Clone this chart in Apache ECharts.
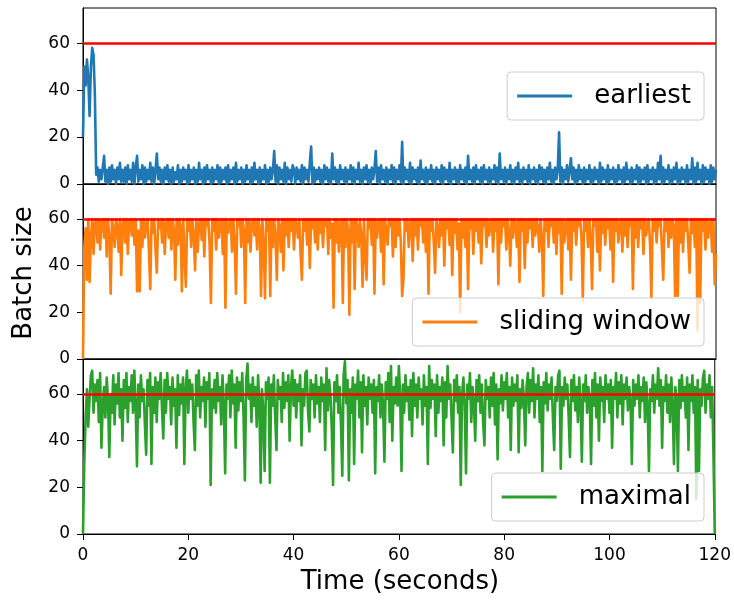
<!DOCTYPE html>
<html>
<head>
<meta charset="utf-8">
<script src="https://cdn.jsdelivr.net/npm/echarts@6/dist/echarts.min.js"></script>
<style>
  html, body { margin: 0; padding: 0; background: #fff; }
  #main { width: 734px; height: 600px; }
</style>
</head>
<body>
<div id="main"></div>
<script>
// sample interval of the recorded batch sizes (seconds)
var step = 0.25;
var limit = 60;
var seriesNames = ['earliest', 'sliding window', 'maximal'];
var colors = ['#1f77b4', '#ff7f0e', '#2ca02c'];
var yTicks = [0, 20, 40, 60];

var earliest = [
  20,50,42,53,45,29,50,58,55,38,4,7,1,6,2,7,12,1,6,0,
  7,1,8,2,6,0,7,2,9,1,6,1,7,0,8,2,6,1,9,0,
  7,12,1,6,2,8,0,7,1,6,2,9,1,7,0,6,13,2,7,1,
  6,0,7,2,8,1,6,0,7,1,5,2,8,0,6,1,7,2,6,0,
  8,1,6,2,7,0,6,1,9,2,6,0,7,1,8,2,6,0,7,1,
  6,2,8,0,7,1,6,2,7,0,8,1,6,2,7,0,9,1,6,2,
  7,0,6,1,8,2,6,0,7,1,9,2,6,0,7,1,6,2,8,0,
  6,1,7,2,6,14,1,8,0,7,2,6,1,9,0,7,2,6,1,8,
  6,0,7,2,6,1,8,0,7,2,6,1,9,16,0,7,1,6,2,7,
  1,6,0,8,2,7,1,6,0,13,2,7,1,6,0,8,2,6,1,7,
  0,6,2,8,1,7,0,6,2,9,1,6,0,7,2,8,1,6,0,7,
  2,6,14,1,7,0,8,2,6,1,7,0,6,2,8,1,7,0,6,2,
  8,1,18,0,7,2,6,1,9,0,7,2,6,1,7,0,10,2,6,1,
  7,0,6,2,8,1,6,0,7,2,6,1,8,0,7,2,6,1,9,0,
  6,2,7,1,6,0,8,2,6,1,7,0,12,2,6,1,7,0,8,2,
  6,1,7,0,8,2,6,1,7,0,6,2,8,1,7,0,13,2,6,1,
  7,0,6,2,8,1,6,0,7,2,9,1,6,0,7,2,6,1,8,0,
  6,2,7,1,6,0,8,2,7,1,6,0,7,2,9,1,6,0,7,2,
  6,22,1,7,0,6,2,8,1,6,11,2,7,0,6,1,8,2,6,0,
  7,1,6,2,8,0,6,1,7,2,6,0,9,1,7,2,6,0,8,1,
  6,2,7,0,6,1,8,2,6,0,7,1,9,2,6,0,7,1,6,2,
  8,0,7,1,6,2,7,0,8,1,6,2,7,0,6,1,9,2,12,0,
  7,1,6,2,8,0,6,1,7,2,9,0,6,1,7,2,6,0,8,1,
  6,2,11,0,7,1,9,2,6,0,8,1,7,2,6,0,8,1,7,2,
  6
];

var slidingWindow = [
  0,48,56,34,60,33,52,60,45,58,60,50,60,47,59,60,52,60,44,60,
  52,28,60,55,48,60,57,46,60,36,58,60,50,60,45,59,60,53,60,49,
  60,29,55,29,60,48,60,52,58,60,46,30,60,54,60,47,37,60,56,60,
  50,60,45,58,60,52,60,47,60,55,34,60,49,60,57,29,60,44,31,60,
  55,60,48,60,53,38,60,46,58,60,51,60,44,60,57,60,49,24,60,55,
  60,47,60,52,58,60,45,60,22,60,54,58,60,46,60,50,28,60,57,60,
  48,60,55,24,60,50,60,46,58,60,53,60,47,60,56,27,60,49,26,60,
  55,60,27,60,48,60,52,34,60,57,46,60,38,60,53,60,48,60,55,60,
  47,60,58,52,60,45,34,60,55,60,49,60,39,60,56,60,50,60,47,60,
  54,60,48,60,57,60,45,60,52,58,22,60,50,60,46,58,60,24,60,48,
  60,55,19,60,50,60,30,60,57,48,60,53,31,60,45,34,60,56,60,49,
  60,28,60,52,58,60,46,60,32,60,55,49,60,57,60,44,60,48,60,53,
  60,50,27,34,60,55,60,48,58,60,42,60,53,60,47,60,57,60,50,60,
  46,60,28,60,55,60,50,37,60,57,48,60,53,60,40,60,56,60,49,60,
  36,60,54,60,47,58,20,60,52,60,48,60,30,60,56,60,45,60,55,60,
  50,60,41,60,57,60,48,60,53,58,60,46,60,55,60,32,60,50,60,57,
  60,47,60,55,40,60,52,60,58,48,60,33,60,55,60,39,60,50,60,56,
  60,48,60,53,60,57,46,60,52,27,60,55,60,48,60,57,60,50,60,45,
  60,54,60,28,60,50,58,60,47,60,34,60,55,60,49,60,57,60,52,25,
  60,55,60,48,60,52,30,60,57,60,46,60,38,60,54,60,49,60,56,60,
  47,60,33,60,55,60,50,58,60,46,60,53,60,48,60,57,60,30,60,52,
  60,48,60,56,60,45,60,53,58,60,49,26,60,55,60,50,60,57,60,47,
  34,60,55,60,48,60,52,60,57,27,60,27,60,50,60,46,60,55,60,49,
  37,60,54,60,48,60,12,60,24,60,55,60,47,60,52,58,60,46,60,32,
  45
];

var maximal = [
  0,31,50,62,46,58,68,70,52,64,57,66,48,69,37,55,63,50,67,58,
  33,60,52,68,47,64,56,69,50,62,40,66,54,69,48,63,57,68,52,70,
  55,29,64,50,68,57,62,47,34,66,55,69,30,63,52,67,48,65,58,69,
  54,41,66,52,69,58,63,47,67,55,62,37,68,51,64,56,67,30,62,70,
  52,66,58,64,48,36,68,55,70,50,63,57,67,46,65,58,69,21,62,54,
  66,52,69,57,63,47,68,55,26,64,58,68,50,70,56,64,37,67,53,65,
  57,69,50,23,66,73,58,64,48,67,55,63,46,68,57,22,62,52,27,65,
  58,67,22,64,55,68,50,36,66,58,63,48,69,54,65,57,68,40,63,70,
  55,66,50,64,57,68,38,62,55,69,70,52,44,66,58,64,50,68,56,63,
  48,67,57,64,36,71,53,66,60,45,21,65,57,68,52,63,47,25,68,74,
  56,66,23,62,52,67,30,64,58,70,50,65,35,68,55,63,47,67,58,64,
  52,66,26,63,57,68,50,64,55,31,65,58,69,48,72,40,63,56,67,55,
  72,58,27,64,52,68,57,63,49,66,42,69,55,64,50,67,58,62,47,68,
  55,63,30,72,54,66,58,64,42,68,52,63,57,67,38,65,50,72,58,64,
  50,35,66,57,68,52,63,21,60,67,55,26,64,58,69,48,63,56,40,66,
  57,68,52,64,48,38,66,58,63,50,67,55,69,47,64,32,62,56,68,53,
  65,58,69,50,63,36,67,55,64,57,68,35,62,54,66,58,38,63,69,52,
  66,57,71,50,64,58,68,48,63,27,65,56,69,53,64,58,67,50,36,63,
  57,68,70,28,63,55,67,58,64,50,33,66,57,68,53,63,48,67,56,31,
  64,57,68,52,63,58,30,66,55,69,50,64,40,67,57,63,48,68,58,64,
  52,66,37,63,58,69,50,65,56,68,47,64,58,67,53,63,57,30,66,55,
  64,58,68,50,63,57,67,48,65,55,27,62,57,68,52,64,58,71,55,66,
  37,63,57,68,52,64,48,67,55,30,63,58,27,66,54,68,57,63,50,67,
  36,64,57,68,52,63,15,66,27,62,55,67,70,52,64,58,68,50,63,34,
  0
];

var font = 'DejaVu Sans';
var allData = [earliest, slidingWindow, maximal];
var gridTops = [8, 184, 359];
var gridHeights = [176, 175, 175];
var legendTops = [72, 298, 473];

function toPairs(arr) {
    var out = [];
    for (var i = 0; i < arr.length; i++) {
        out.push([i * step, arr[i]]);
    }
    return out;
}

var grids = [], xAxes = [], yAxes = [], series = [], legends = [];
for (var k = 0; k < 3; k++) {
    var bottom = (k == 2);
    grids.push({
        left: 83, right: 18, top: gridTops[k], height: gridHeights[k],
        show: true, borderColor: '#000', borderWidth: 1,
        backgroundColor: 'transparent'
    });
    xAxes.push({
        type: 'value', gridIndex: k, min: 0, max: 120, interval: 20,
        axisLine: { show: true, onZero: false, lineStyle: { color: '#000', width: 1 } },
        axisTick: { show: bottom, length: 6, lineStyle: { color: '#000' } },
        axisLabel: { show: bottom, fontSize: 17, color: '#000', fontFamily: font, margin: 13 },
        splitLine: { show: false }
    });
    yAxes.push({
        type: 'value', gridIndex: k, min: 0, max: 75, interval: 20,
        axisLine: { show: true, lineStyle: { color: '#000', width: 1 } },
        axisTick: { show: true, length: 6, customValues: yTicks, lineStyle: { color: '#000' } },
        axisLabel: { fontSize: 17, color: '#000', fontFamily: font, margin: 13, customValues: yTicks },
        splitLine: { show: false }
    });
    series.push({
        name: seriesNames[k],
        type: 'line',
        xAxisIndex: k,
        yAxisIndex: k,
        data: toPairs(allData[k]),
        symbol: 'none',
        showSymbol: false,
        color: colors[k],
        lineStyle: { width: 2.6, color: colors[k], join: 'round' },
        markLine: {
            silent: true,
            symbol: ['none', 'none'],
            label: { show: false },
            lineStyle: { color: '#ff0000', width: 2.5, type: 'solid' },
            data: [{ yAxis: limit }]
        }
    });
    legends.push({
        data: [seriesNames[k]],
        right: 30,
        top: legendTops[k],
        icon: 'rect',
        itemWidth: 55,
        itemHeight: 3,
        itemGap: 0,
        padding: [10, 13, 10, 10],
        backgroundColor: 'rgba(255,255,255,0.8)',
        borderColor: '#cccccc',
        borderWidth: 1,
        borderRadius: 4,
        selectedMode: false,
        textStyle: { fontSize: 26, fontFamily: font, color: '#000', lineHeight: 28, padding: [0, 0, 0, 17] }
    });
}

var option = {
    animation: false,
    backgroundColor: '#fff',
    grid: grids,
    xAxis: xAxes,
    yAxis: yAxes,
    legend: legends,
    series: series,
    graphic: [
        {
            type: 'text', x: 24, y: 273, rotation: Math.PI / 2,
            style: { text: 'Batch size', font: '26px "DejaVu Sans"', fill: '#000', textAlign: 'center', textVerticalAlign: 'middle' }
        },
        {
            type: 'text', x: 400, y: 582,
            style: { text: 'Time (seconds)', font: '26px "DejaVu Sans"', fill: '#000', textAlign: 'center', textVerticalAlign: 'middle' }
        }
    ]
};

var chart = echarts.init(document.getElementById('main'));
chart.setOption(option);
</script>
</body>
</html>
